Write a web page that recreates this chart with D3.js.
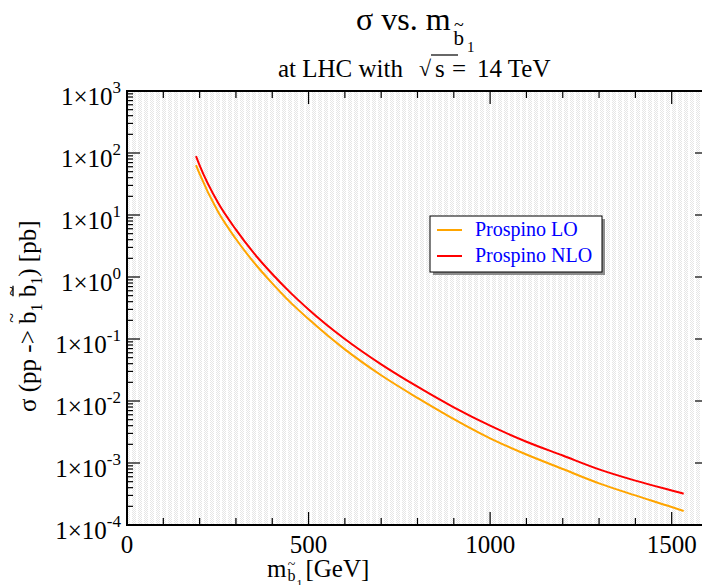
<!DOCTYPE html>
<html><head><meta charset="utf-8">
<script src="https://cdn.jsdelivr.net/npm/d3@7"></script>
<style>body{margin:0;background:#fff}svg{display:block}text{font-family:"Liberation Serif","Times New Roman",serif;white-space:pre}</style>
</head><body><svg id="c" width="702" height="585"></svg>
<script>
const masses = [190,200,250,300,350,400,450,500,600,700,800,900,1000,1100,1200,1300,1400,1500,1533];
const nlo = [89,63,16,5.8,2.4,1.12,0.56,0.30,0.10,0.039,0.017,0.0079,0.0040,0.0022,0.00132,0.00079,0.00052,0.00036,0.00032];
const lo  = [64,46,11.5,4.1,1.7,0.79,0.39,0.21,0.068,0.026,0.0112,0.0051,0.0025,0.00137,0.00080,0.00047,0.00030,0.000195,0.000168];
const xTicks = [0,500,1000,1500];
const yExps = [3,2,1,0,-1,-2,-3,-4];
const seriesNames = ["Prospino LO","Prospino NLO"];
const seriesColors = ["#ffa500","#ff0000"];

const svg = d3.select("#c");
const L=127, R=708, T=91, B=525;
const x = d3.scaleLinear().domain([0,1600]).range([L,R]);
const y = d3.scaleLog().domain([1e-4,1e3]).range([B,T]);

// background pattern
const defs = svg.append("defs");
const pat = defs.append("pattern").attr("id","p").attr("width",6).attr("height",2).attr("patternUnits","userSpaceOnUse");
pat.append("rect").attr("width",6).attr("height",2).attr("fill","#fff");
[[0,0],[1,1],[2,0],[3,1]].forEach(([a,b])=>pat.append("rect").attr("x",a).attr("y",b).attr("width",1).attr("height",1).attr("fill","#e6e6e6"));
svg.append("rect").attr("x",L).attr("y",T).attr("width",R-L).attr("height",B-T).attr("fill","url(#p)");

// curves
const line = d3.line().x(d=>x(d[0])).y(d=>y(d[1])).curve(d3.curveMonotoneX);
svg.append("path").datum(masses.map((m,i)=>[m,lo[i]])).attr("d",line).attr("fill","none").attr("stroke",seriesColors[0]).attr("stroke-width",2);
svg.append("path").datum(masses.map((m,i)=>[m,nlo[i]])).attr("d",line).attr("fill","none").attr("stroke",seriesColors[1]).attr("stroke-width",2);

// ticks
const tk = svg.append("g").attr("stroke","#000").attr("stroke-width",1.2);
d3.range(0,1601,100).forEach(v=>{
  const major = v%500===0; const len = major?13:7;
  tk.append("line").attr("x1",x(v)).attr("x2",x(v)).attr("y1",B).attr("y2",B-len);
  tk.append("line").attr("x1",x(v)).attr("x2",x(v)).attr("y1",T).attr("y2",T+len);
});
for(let e=-4;e<3;e++){
  for(let k=1;k<10;k++){
    const v=k*Math.pow(10,e); const len=k===1?13:6;
    tk.append("line").attr("x1",L).attr("x2",L+len).attr("y1",y(v)).attr("y2",y(v));
    tk.append("line").attr("x1",R).attr("x2",R-len).attr("y1",y(v)).attr("y2",y(v));
  }
}
tk.append("line").attr("x1",L).attr("x2",L+13).attr("y1",y(1e3)).attr("y2",y(1e3));
svg.append("rect").attr("x",L).attr("y",T).attr("width",R-L).attr("height",B-T).attr("fill","none").attr("stroke","#000").attr("stroke-width",2);

// x labels
svg.selectAll(".xl").data(xTicks).enter().append("text").attr("x",d=>x(d)).attr("y",553).attr("text-anchor","middle").attr("font-size",25).text(d=>d);
// y labels
yExps.forEach(e=>{
  const t = svg.append("text").attr("x",121).attr("y",y(Math.pow(10,e))+14).attr("text-anchor","end").attr("font-size",25);
  t.append("tspan").text("1×10");
  t.append("tspan").attr("font-size",17).attr("dy",-12).text(e);
});

// helper: sequential pieces; over=true centres over previous glyph without advancing; bar draws a line over previous glyph
function rich(g, x0, y0, pieces){
  let cx = x0, prevStart = x0, prevW = 0;
  pieces.forEach(p=>{
    if(p.bar){
      g.append("line").attr("x1",prevStart+1).attr("x2",prevStart+prevW-1).attr("y1",y0+p.dy).attr("y2",y0+p.dy).attr("stroke","#000").attr("stroke-width",1.3);
      return;
    }
    const t = g.append("text").attr("font-size",p.size).attr("y",y0+(p.dy||0)).text(p.t);
    const w = t.node().getComputedTextLength();
    if(p.over){ t.attr("x", prevStart + prevW/2 - w/2 + (p.dx||0)); }
    else { cx += (p.dx||0); t.attr("x",cx); prevStart=cx; prevW=w; cx+=w; }
  });
  return cx;
}

// title
rich(svg, 356, 30, [
  {t:"σ vs. m", size:32},
  {t:"b", size:21, dy:15, dx:3},
  {t:"~", size:18, dy:1, over:true},
  {t:"1", size:15, dy:22, dx:3}
]);
// subtitle
rich(svg, 278, 77, [{t:"at LHC with", size:25}]);
svg.append("text").attr("x",419).attr("y",76).attr("font-size",22).text("√");
svg.append("text").attr("x",435).attr("y",77).attr("font-size",25).text("s");
svg.append("line").attr("x1",431).attr("x2",458).attr("y1",55).attr("y2",55).attr("stroke","#000").attr("stroke-width",1.2);
svg.append("text").attr("x",452).attr("y",77).attr("font-size",25).text("=");
svg.append("text").attr("x",477).attr("y",77).attr("font-size",25).text("14 TeV");

// x axis title
rich(svg, 267, 577, [
  {t:"m", size:25},
  {t:"b", size:16, dy:4, dx:1},
  {t:"~", size:14, dy:-8, over:true},
  {t:"1", size:12, dy:11, dx:1},
  {t:"[GeV]", size:25, dx:3}
]);

// y axis title (rotated)
const yg = svg.append("g").attr("transform","translate(36,412) rotate(-90)");
rich(yg, 0, 0, [
  {t:"σ (pp -> ", size:25},
  {t:"b", size:25},
  {t:"~", size:18, dy:-18, over:true},
  {t:"1", size:16, dy:6},
  {t:" ", size:25},
  {t:"b", size:25},
  {t:"~", size:18, dy:-18, over:true},
  {bar:true, dy:-23},
  {t:"1", size:16, dy:6},
  {t:") [pb]", size:25}
]);

// legend
const lg = svg.append("g");
lg.append("rect").attr("x",433).attr("y",219).attr("width",172).attr("height",56).attr("fill","#8c8c8c");
lg.append("rect").attr("x",430).attr("y",216).attr("width",172).attr("height",56).attr("fill","#fff").attr("stroke","#000").attr("stroke-width",1);
seriesNames.forEach((n,i)=>{
  const yy = 230+i*26;
  lg.append("line").attr("x1",437).attr("x2",462).attr("y1",yy).attr("y2",yy).attr("stroke",seriesColors[i]).attr("stroke-width",2);
  lg.append("text").attr("x",475).attr("y",yy+6).attr("font-size",20).attr("fill","#0000ff").text(n);
});
</script></body></html>
